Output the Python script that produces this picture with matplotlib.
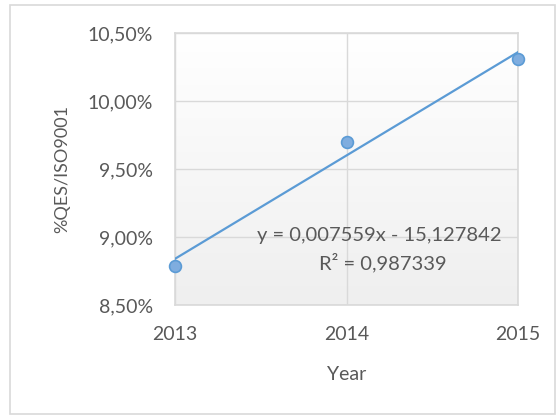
import numpy as np
import matplotlib.pyplot as plt
from matplotlib.colors import LinearSegmentedColormap
from matplotlib.patches import Rectangle
from matplotlib.ticker import FuncFormatter

years = [2013, 2014, 2015]
qes_share = [0.0879, 0.0970, 0.1031]
y_ticks = [0.085, 0.090, 0.095, 0.100, 0.105]
x_ticks = [2013, 2014, 2015]
eq_text = "y = 0,007559x - 15,127842"
r2_text = "R² = 0,987339"

LINE = "#5B9BD5"
GRID = "#D9D9D9"
TEXT = "#595959"
FS = 14

plt.rcParams["font.family"] = ["Lato", "DejaVu Sans"]

fig = plt.figure(figsize=(5.6, 4.19), dpi=100)
ax = fig.add_axes([0.3125, 0.272, 0.6125, 0.649])

# soft grey gradient in the plot area, like the Excel style
grad = np.linspace(1.0, 0.0, 100).reshape(-1, 1)
ax.imshow(grad, cmap=LinearSegmentedColormap.from_list("bg", ["#EFEFEF", "#FFFFFF"]),
          aspect="auto", extent=[0, 1, 0, 1], transform=ax.transAxes, zorder=0)

# trendline
coef = np.polyfit(years, qes_share, 1)
xs = np.array([years[0], years[-1]])
ax.plot(xs, np.polyval(coef, xs), color=LINE, lw=1.6, zorder=3)
ax.plot(years, qes_share, "o", ms=8.5, mfc="#7FADDF", mec=LINE, mew=1.2,
        zorder=4, clip_on=False)

ax.set_xlim(2013, 2015)
ax.set_ylim(0.085, 0.105)
ax.set_xticks(x_ticks)
ax.set_yticks(y_ticks)
ax.yaxis.set_major_formatter(FuncFormatter(lambda v, p: ("%.2f%%" % (v * 100)).replace(".", ",")))
ax.grid(True, color=GRID, lw=1)
ax.set_axisbelow(True)
for s in ax.spines.values():
    s.set_color(GRID)
    s.set_linewidth(1.2)
ax.tick_params(length=0, labelsize=FS, colors=TEXT)
ax.tick_params(axis="y", pad=16)
ax.tick_params(axis="x", pad=15)

ax.set_xlabel("Year", fontsize=FS, color=TEXT, labelpad=17)
ax.set_ylabel("%QES/ISO9001", fontsize=FS - 1, color=TEXT, labelpad=12)

ax.text(2014.19, 0.0901, eq_text, fontsize=FS + 0.5, color=TEXT, ha="center", va="center", zorder=5)
ax.text(2014.21, 0.0881, r2_text, fontsize=FS + 0.5, color=TEXT, ha="center", va="center", zorder=5)

# outer chart border
fig.patches.append(Rectangle((0.018, 0.012), 0.973, 0.976, transform=fig.transFigure,
                             fill=False, edgecolor=GRID, lw=1.2))

fig.savefig("out.png", dpi=100)
